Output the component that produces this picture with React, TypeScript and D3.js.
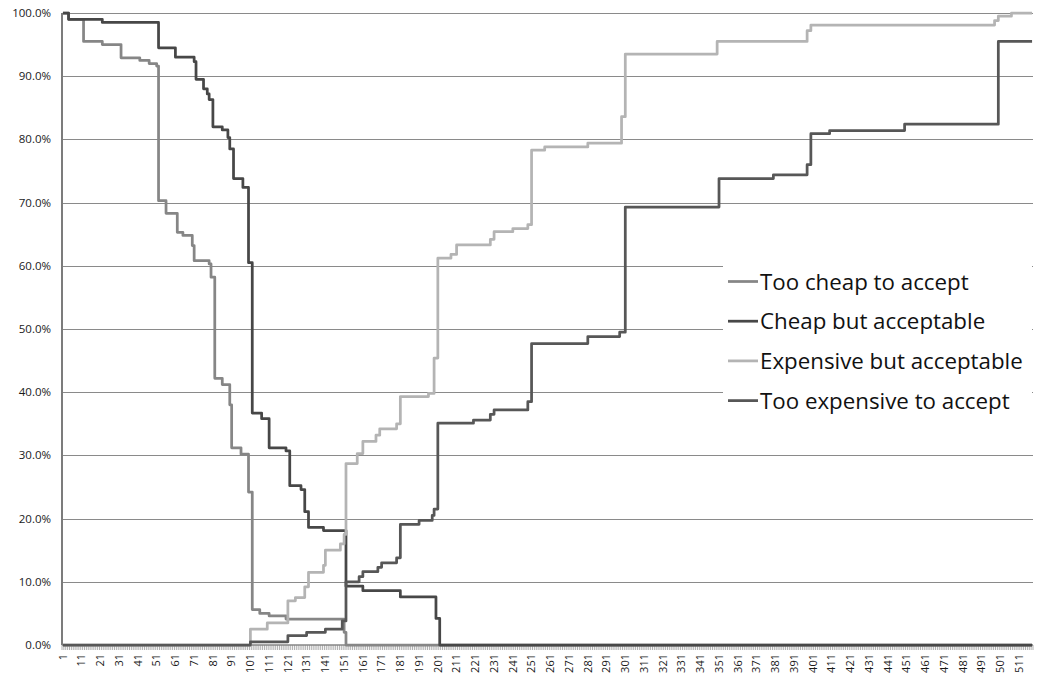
import React, { useRef, useEffect } from 'react';
import * as d3 from 'd3';

// number of price points on the category axis (1..518)
const categoryCount = 518;
const yTickValues = [0, 0.1, 0.2, 0.3, 0.4, 0.5, 0.6, 0.7, 0.8, 0.9, 1.0];

// each series is a step curve: [first category of the step, percent]
const tooCheap: [number, number][] = [
    [1, 100], [4, 99], [12, 95.5], [22, 95.0], [32, 92.9], [42, 92.5], [47, 92.0], [51, 91.6],
    [52, 70.3], [56, 68.3], [62, 65.3], [65, 64.8], [70, 63.2], [71, 60.8], [79, 60.3], [80, 58.2],
    [82, 42.2], [86, 41.2], [90, 38.0], [91, 31.2], [96, 30.2], [100, 24.2], [102, 5.6], [106, 5.0],
    [111, 4.6], [120, 4.1], [151, 2.0], [152, 0]
];

const cheapButAcceptable: [number, number][] = [
    [1, 100], [4, 99], [22, 98.5], [52, 94.5], [61, 93.0], [71, 92.3], [72, 89.5], [76, 88.0],
    [78, 87.2], [79, 86.3], [81, 82.0], [86, 81.5], [89, 80.3], [90, 78.5], [92, 73.8], [97, 72.4],
    [100, 60.5], [102, 36.7], [107, 35.8], [111, 31.2], [120, 30.7], [122, 25.2], [128, 24.6],
    [130, 21.1], [132, 18.6], [140, 18.1], [152, 9.3], [161, 8.6], [181, 7.6], [200, 4.2], [202, 0]
];

const expensiveButAcceptable: [number, number][] = [
    [1, 0], [101, 2.5], [110, 3.5], [121, 7.0], [125, 7.5], [130, 9.2], [132, 11.5], [140, 12.6],
    [141, 15.0], [149, 16.0], [151, 17.5], [152, 28.7], [158, 30.3], [161, 32.2], [168, 33.2],
    [170, 34.2], [179, 35.0], [181, 39.3], [196, 39.8], [199, 45.4], [201, 61.2], [208, 61.8],
    [211, 63.3], [229, 64.2], [231, 65.4], [241, 65.9], [249, 66.5], [251, 78.3], [258, 78.8],
    [281, 79.4], [299, 83.6], [301, 93.5], [350, 95.5], [398, 97.2], [400, 98.1], [498, 98.8],
    [500, 99.5], [507, 100]
];

const tooExpensive: [number, number][] = [
    [1, 0], [101, 0.5], [121, 1.5], [131, 2.0], [141, 2.5], [150, 3.8], [152, 10.0], [159, 10.8],
    [161, 11.6], [169, 12.3], [171, 13.0], [179, 13.8], [181, 19.1], [191, 19.7], [198, 20.5],
    [199, 21.5], [201, 35.1], [220, 35.6], [229, 36.5], [231, 37.2], [249, 38.5], [251, 47.7],
    [281, 48.8], [298, 49.5], [301, 69.3], [351, 73.8], [380, 74.4], [398, 76.0], [400, 80.9],
    [410, 81.4], [450, 82.4], [500, 95.5]
];

const seriesNames = ["Too cheap to accept", "Cheap but acceptable", "Expensive but acceptable", "Too expensive to accept"];
const seriesData = [tooCheap, cheapButAcceptable, expensiveButAcceptable, tooExpensive];
const seriesColors = ["#868686", "#474747", "#b4b4b4", "#575757"];

function App() {
    const svgRef = useRef<SVGSVGElement | null>(null);

    useEffect(() => {
        if (!svgRef.current) return;
        const svg = d3.select(svgRef.current);
        svg.selectAll("*").remove();

        const width = 1037;
        const height = 681;
        const marginLeft = 62;
        const marginRight = 4;
        const marginTop = 13;
        const plotBottom = 645;
        const font = "'Open Sans', Lato, sans-serif";

        const categories = d3.range(1, categoryCount + 1);

        // category centres on a linear scale (band width ~1.87px)
        const x = d3.scaleLinear()
            .domain([0.5, categoryCount + 0.5])
            .range([marginLeft, width - marginRight]);

        const y = d3.scaleLinear()
            .domain([0, 1])
            .range([plotBottom, marginTop]);

        svg.attr("width", width).attr("height", height);

        // horizontal gridlines
        svg.append("g")
            .selectAll("line")
            .data(yTickValues.slice(1))
            .join("line")
            .attr("x1", marginLeft)
            .attr("x2", width - marginRight)
            .attr("y1", d => Math.round(y(d)) + 0.5)
            .attr("y2", d => Math.round(y(d)) + 0.5)
            .attr("stroke", "#8a8a8a")
            .attr("stroke-width", 1);

        // y axis labels
        svg.append("g")
            .selectAll("text")
            .data(yTickValues)
            .join("text")
            .attr("x", 51)
            .attr("y", d => y(d) + 4)
            .attr("text-anchor", "end")
            .attr("font-family", font)
            .attr("font-size", 11.5)
            .attr("fill", "#1a1a1a")
            .text(d => d3.format(".1%")(d));

        // category tick marks at band edges
        svg.append("g")
            .selectAll("line")
            .data(d3.range(0, categoryCount + 1))
            .join("line")
            .attr("x1", d => x(d + 0.5))
            .attr("x2", d => x(d + 0.5))
            .attr("y1", plotBottom)
            .attr("y2", plotBottom + 5)
            .attr("stroke", "#9a9a9a")
            .attr("stroke-width", 0.8);

        // x axis baseline and y axis line
        svg.append("line")
            .attr("x1", marginLeft).attr("x2", width - marginRight)
            .attr("y1", plotBottom).attr("y2", plotBottom)
            .attr("stroke", "#868686").attr("stroke-width", 1.5);
        svg.append("line")
            .attr("x1", marginLeft).attr("x2", marginLeft)
            .attr("y1", marginTop).attr("y2", plotBottom)
            .attr("stroke", "#7c7c7c").attr("stroke-width", 2);

        // x labels every 10th category, rotated
        svg.append("g")
            .selectAll("text")
            .data(categories.filter(c => (c - 1) % 10 === 0))
            .join("text")
            .attr("transform", d => `translate(${x(d) + 3.8},${plotBottom + 9}) rotate(-90)`)
            .attr("text-anchor", "end")
            .attr("font-family", font)
            .attr("font-size", 11)
            .attr("fill", "#1a1a1a")
            .text(d => d);

        // series lines
        const line = d3.line<[number, number]>()
            .x(d => x(d[0]))
            .y(d => y(d[1] / 100))
            .curve(d3.curveStepAfter);

        svg.append("g")
            .selectAll("path")
            .data(seriesData)
            .join("path")
            .attr("d", d => line([...d, [categoryCount, d[d.length - 1][1]]]))
            .attr("fill", "none")
            .attr("stroke", (_, i) => seriesColors[i])
            .attr("stroke-width", 2.75)
            .attr("stroke-linejoin", "round");

        // legend with white background over the gridlines
        const legend = svg.append("g");
        legend.append("rect")
            .attr("x", 723)
            .attr("y", 259)
            .attr("width", 309)
            .attr("height", 164)
            .attr("fill", "#fff");

        const item = legend.selectAll("g.item")
            .data(seriesNames)
            .join("g")
            .attr("class", "item")
            .attr("transform", (_, i) => `translate(728,${281.5 + i * 39.7})`);
        item.append("line")
            .attr("x1", 0).attr("x2", 30)
            .attr("stroke", (_, i) => seriesColors[i])
            .attr("stroke-width", 2.75);
        item.append("text")
            .attr("x", 32)
            .attr("y", 8)
            .attr("font-family", font)
            .attr("font-size", 22.3)
            .attr("fill", "#111")
            .text(d => d);
    }, []);

    return (
        <div style={{ position: "absolute", left: 0, top: 0 }}>
            <svg ref={svgRef}></svg>
        </div>
    );
}

export default App;
